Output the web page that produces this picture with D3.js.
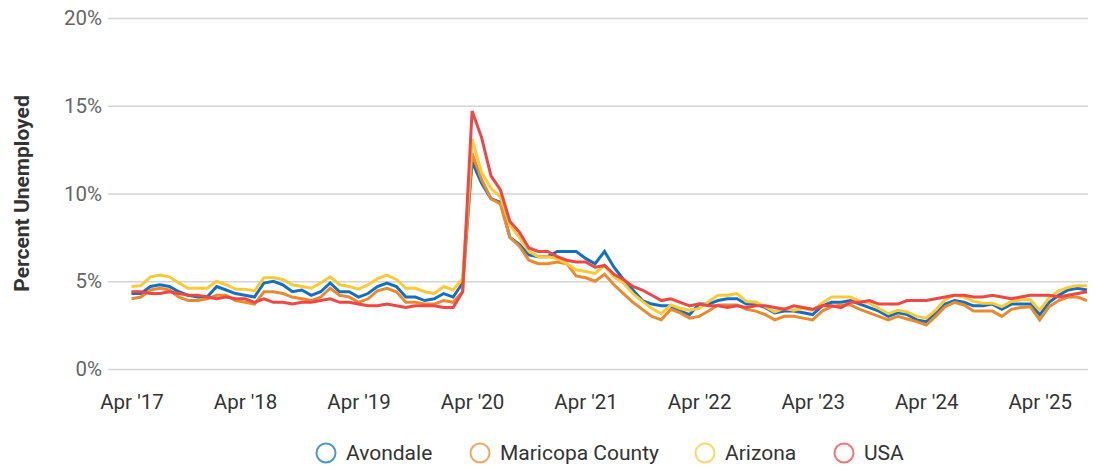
<!DOCTYPE html>
<html>
<head>
<meta charset="utf-8">
<script src="https://cdnjs.cloudflare.com/ajax/libs/d3/7.8.5/d3.min.js"></script>
<style>
  html, body { margin: 0; padding: 0; background: #fff; }
  svg { display: block; font-family: Roboto, "Noto Sans", Arial, sans-serif; }
</style>
</head>
<body>
<svg id="chart"></svg>
<script>
// monthly, Apr 2017 .. Sep 2025 (index 0 = Apr '17)
const tickMonths = [0, 12, 24, 36, 48, 60, 72, 84, 96];
const tickLabels = ["Apr '17", "Apr '18", "Apr '19", "Apr '20", "Apr '21", "Apr '22", "Apr '23", "Apr '24", "Apr '25"];
const yTicks = [0, 5, 10, 15, 20];

const avondale = [
  4.3, 4.3, 4.7, 4.8, 4.7, 4.4, 4.2, 4.1, 4.1, 4.7, 4.5, 4.3,
  4.2, 4.1, 4.9, 5.0, 4.8, 4.4, 4.5, 4.2, 4.4, 4.9, 4.4, 4.4,
  4.1, 4.3, 4.7, 4.9, 4.7, 4.1, 4.1, 3.9, 4.0, 4.3, 4.1, 4.9,
  11.8, 10.6, 9.7, 9.5, 7.5, 7.1, 6.5, 6.4, 6.4, 6.7, 6.7, 6.7,
  6.3, 6.0, 6.7, 5.8, 5.1, 4.5, 3.9, 3.7, 3.6, 3.6, 3.3, 3.1,
  3.7, 3.7, 3.9, 4.0, 4.0, 3.7, 3.7, 3.5, 3.2, 3.3, 3.3, 3.2,
  3.1, 3.6, 3.8, 3.8, 3.9, 3.7, 3.5, 3.3, 3.0, 3.2, 3.1, 2.8,
  2.7, 3.2, 3.7, 3.9, 3.8, 3.6, 3.6, 3.7, 3.4, 3.7, 3.7, 3.7,
  3.1, 3.8, 4.2, 4.5, 4.6, 4.5
];
const maricopa = [
  4.0, 4.1, 4.5, 4.6, 4.5, 4.1, 3.9, 3.9, 4.0, 4.2, 4.2, 3.9,
  3.8, 3.7, 4.4, 4.4, 4.3, 4.1, 4.0, 3.9, 4.1, 4.6, 4.2, 4.1,
  3.8, 4.0, 4.45, 4.6, 4.4, 3.8, 3.8, 3.7, 3.7, 3.9, 3.8, 4.4,
  12.3, 10.8, 9.7, 9.4, 7.5, 7.0, 6.2, 6.0, 6.0, 6.1, 6.0, 5.3,
  5.2, 5.0, 5.4, 4.8, 4.3, 3.8, 3.4, 3.0, 2.8, 3.4, 3.2, 2.9,
  3.0, 3.3, 3.65, 3.65, 3.65, 3.4, 3.3, 3.1, 2.8, 3.0, 3.0, 2.9,
  2.8, 3.3, 3.55, 3.65, 3.65, 3.4, 3.2, 3.0, 2.8, 3.0, 2.85, 2.7,
  2.5, 3.0, 3.55, 3.8, 3.65, 3.3, 3.3, 3.3, 3.0, 3.4, 3.5, 3.55,
  2.8, 3.55, 3.9, 4.1, 4.1, 3.9
];
const arizona = [
  4.7, 4.75, 5.25, 5.35, 5.25, 4.9, 4.6, 4.6, 4.6, 5.0, 4.8, 4.55,
  4.55, 4.45, 5.2, 5.2, 5.1, 4.8, 4.7, 4.6, 4.9, 5.25, 4.8, 4.7,
  4.55, 4.8, 5.15, 5.35, 5.1, 4.6, 4.6, 4.4, 4.3, 4.7, 4.5, 5.15,
  13.1, 11.2, 10.3, 9.8, 8.2, 7.5, 6.7, 6.4, 6.4, 6.3, 6.0, 5.65,
  5.55, 5.45, 5.9, 5.25, 4.9, 4.3, 3.85, 3.45, 3.15, 3.65, 3.45, 3.35,
  3.45, 3.85, 4.2, 4.2, 4.3, 3.85, 3.8, 3.55, 3.25, 3.45, 3.35, 3.45,
  3.35, 3.75, 4.1, 4.1, 4.1, 3.85, 3.75, 3.45, 3.15, 3.35, 3.25, 3.0,
  2.9, 3.35, 3.95, 4.2, 4.1, 3.85, 3.75, 3.75, 3.55, 3.85, 3.95, 3.95,
  3.35, 4.05, 4.45, 4.65, 4.75, 4.75
];
const usa = [
  4.4, 4.4, 4.3, 4.3, 4.4, 4.3, 4.2, 4.2, 4.1, 4.0, 4.1, 4.0,
  4.0, 3.8, 4.0, 3.8, 3.8, 3.7, 3.8, 3.8, 3.9, 4.0, 3.8, 3.8,
  3.7, 3.6, 3.6, 3.7, 3.6, 3.5, 3.6, 3.6, 3.6, 3.5, 3.5, 4.4,
  14.7, 13.2, 11.0, 10.2, 8.4, 7.8, 6.9, 6.7, 6.7, 6.4, 6.2, 6.1,
  6.1, 5.8, 5.9, 5.4, 5.1, 4.7, 4.5, 4.2, 3.9, 4.0, 3.8, 3.6,
  3.7, 3.6, 3.6, 3.5, 3.6, 3.5, 3.6, 3.6, 3.5, 3.4, 3.6, 3.5,
  3.4, 3.6, 3.6, 3.5, 3.8, 3.8, 3.9, 3.7, 3.7, 3.7, 3.9, 3.9,
  3.9, 4.0, 4.1, 4.2, 4.2, 4.1, 4.1, 4.2, 4.1, 4.0, 4.1, 4.2,
  4.2, 4.2, 4.1, 4.2, 4.3, 4.4
];

const seriesNames = ["Avondale", "Maricopa County", "Arizona", "USA"];
const seriesColors = ["#1170c4", "#ea8a2e", "#fdc935", "#ef4646"];
const seriesValues = [avondale, maricopa, arizona, usa];

const width = 1097, height = 470;
const svg = d3.select("#chart").attr("width", width).attr("height", height);

const gridLeft = 108, gridRight = 1088;
const x = d3.scaleLinear().domain([0, usa.length - 1]).range([131.5, 1087]);
const y = d3.scaleLinear().domain([0, 20]).range([369, 18]);

// y axis + gridlines
const yAxis = svg.append("g")
  .attr("transform", `translate(${gridLeft},0)`)
  .call(d3.axisLeft(y).tickValues(yTicks).tickFormat(d => d + "%")
    .tickSize(-(gridRight - gridLeft)).tickPadding(6));
yAxis.select(".domain").remove();
yAxis.selectAll(".tick line").attr("stroke", "#d4d4d4").attr("stroke-width", 1.5);
yAxis.selectAll(".tick text")
  .attr("fill", "#666").style("font-size", "20.5px").style("font-family", "Roboto, sans-serif");

// x axis
const xAxis = svg.append("g")
  .attr("transform", `translate(0,${y(0)})`)
  .call(d3.axisBottom(x).tickValues(tickMonths)
    .tickFormat((d, i) => tickLabels[i]).tickSize(0).tickPadding(25));
xAxis.select(".domain").remove();
xAxis.selectAll(".tick text")
  .attr("fill", "#333").style("font-size", "20.5px").style("font-family", "Roboto, sans-serif");

// y title
svg.append("text")
  .attr("transform", `translate(29,${(y(0) + y(20)) / 2}) rotate(-90)`)
  .attr("text-anchor", "middle")
  .attr("fill", "#333")
  .style("font-size", "21px")
  .style("font-weight", "bold")
  .text("Percent Unemployed");

// lines
const line = d3.line().x((d, i) => x(i)).y(d => y(d)).curve(d3.curveLinear);
svg.append("g").selectAll("path")
  .data(seriesValues)
  .enter()
  .append("path")
  .attr("d", line)
  .attr("fill", "none")
  .attr("stroke", (d, i) => seriesColors[i])
  .attr("stroke-width", 3)
  .attr("stroke-linejoin", "miter")
  .attr("stroke-linecap", "butt");

// legend
const legendX = [326, 480, 705, 844];
const legend = svg.append("g").selectAll("g")
  .data(seriesNames)
  .enter()
  .append("g")
  .attr("transform", (d, i) => `translate(${legendX[i]},453)`);
legend.append("circle")
  .attr("r", 9.5)
  .attr("fill", "none")
  .attr("stroke", (d, i) => seriesColors[i])
  .attr("stroke-opacity", 0.75)
  .attr("stroke-width", 2);
legend.append("text")
  .attr("x", 20)
  .attr("dy", "0.35em")
  .attr("fill", "#333")
  .style("font-size", "21px")
  .text(d => d);
</script>
</body>
</html>
